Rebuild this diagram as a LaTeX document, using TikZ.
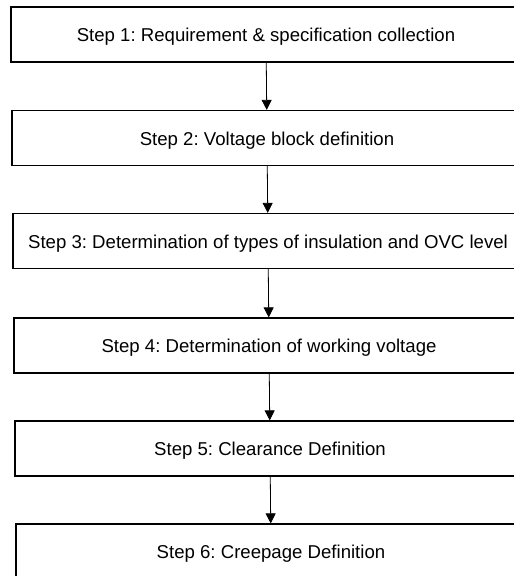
\documentclass[tikz,border=0pt]{standalone}
\usepackage{fontspec}
\setmainfont{Liberation Sans}
\frenchspacing
\usetikzlibrary{arrows.meta}

\tikzset{
    stepbox/.style={draw, line width=1.3pt, minimum width=510pt, minimum height=55pt,
        inner sep=2pt, text height=14pt, text depth=0pt, font=\fontsize{18.6}{22}\selectfont},
    flow/.style={-{Triangle[length=10pt,width=10pt]}, line width=0.8pt}
}

\begin{document}
\begin{tikzpicture}[x=1pt,y=1pt]
    \clip (0,0) rectangle (514,-576);

    \node [stepbox] (s1) at (266,-34.5) {Step 1: Requirement \& specification collection};
    \node [stepbox] (s2) at (267,-138) {Step 2: Voltage block definition};
    \node [stepbox] (s3) at (268,-241) {Step 3: Determination of types of insulation and OVC level};
    \node [stepbox] (s4) at (269,-345.5) {Step 4: Determination of working voltage};
    \node [stepbox] (s5) at (270,-448.5) {Step 5: Clearance Definition};
    \node [stepbox] (s6) at (271,-551.5) {Step 6: Creepage Definition};

    \draw [flow] (s1) -- (s2);
    \draw [flow] (s2) -- (s3);
    \draw [flow] (s3) -- (s4);
    \draw [flow] (s4) -- (s5);
    \draw [flow] (s5) -- (s6);
\end{tikzpicture}
\end{document}
